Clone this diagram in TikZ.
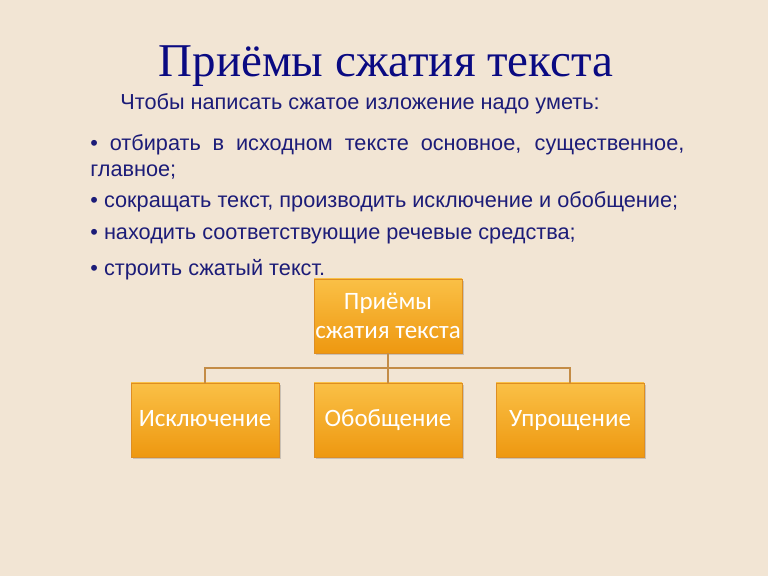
\documentclass[tikz,border=0pt]{standalone}
\usepackage{fontspec}
\setmainfont{Liberation Sans}
\newfontfamily\titlefont{Liberation Serif}
\newfontfamily\boxfont{Carlito}
\usetikzlibrary{shadows}
\definecolor{bg}{RGB}{242,229,212}
\definecolor{ink}{RGB}{28,28,120}
\definecolor{navy}{RGB}{10,10,130}
\definecolor{boxtop}{RGB}{250,192,70}
\definecolor{boxbot}{RGB}{238,152,16}
\definecolor{boxline}{RGB}{222,142,34}
\definecolor{linkc}{RGB}{196,140,70}
\tikzset{
  topic/.style={rectangle, minimum width=74pt, minimum height=37pt, inner sep=0pt,
    top color=boxtop, bottom color=boxbot, draw=boxline, line width=0.4pt,
    drop shadow={shadow xshift=1pt, shadow yshift=-1.2pt, opacity=0.35},
    text=white, align=center, font=\boxfont\fontsize{12.5}{14.5}\selectfont},
  leaf/.style={topic, text height=9pt, text depth=2.5pt},
  txt/.style={anchor=west, inner sep=0pt, text=ink, font=\fontsize{10.85}{13}\selectfont},
  link/.style={draw=linkc, line width=0.6pt}
}
\begin{document}
\begin{tikzpicture}[x=0.5pt,y=-0.5pt]
  \fill[bg] (0,0) rectangle (768,576);
  \useasboundingbox (0,0) rectangle (768,576);

  \node[text=navy, font=\titlefont\fontsize{23.5}{28}\selectfont] (title) at (386,66) {Приёмы сжатия текста};

  \node[txt] (intro) at (120,104) {Чтобы написать сжатое изложение надо уметь:};
  \node[txt, anchor=north west, text width=297pt, align=justify] (item1) at (90,134)
    {• отбирать в исходном тексте основное, существенное,\linebreak главное;};
  \node[txt] (item2) at (90,202) {• сокращать текст, производить исключение и обобщение;};
  \node[txt] (item3) at (90,236) {• находить соответствующие речевые средства;};
  \node[txt] (item4) at (90,270) {• строить сжатый текст.};

  % схема
  \node[topic] (root) at (388,316) {Приёмы\\сжатия текста};
  \node[leaf] (excl) at (205,420) {Исключение};
  \node[leaf] (gen) at (388,420) {Обобщение};
  \node[leaf] (simp) at (570,420) {Упрощение};

  \coordinate (fork) at (388,368);
  \draw[link] (root.south) -- (fork);
  \draw[link] (excl.north) |- (fork) -| (simp.north);
  \draw[link] (fork) -- (gen.north);
\end{tikzpicture}
\end{document}
